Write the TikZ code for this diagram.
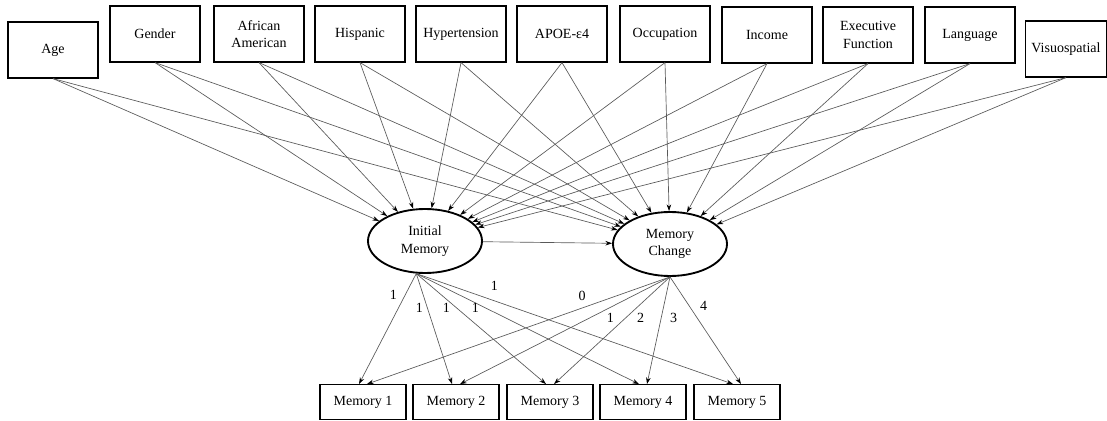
\documentclass[tikz,border=0pt]{standalone}
\usepackage{fontspec}
\setmainfont{Liberation Serif}
\usetikzlibrary{arrows.meta,shapes.geometric}
\tikzset{
  covar/.style={draw, line width=0.9pt, minimum width=67.5pt, minimum height=42pt, align=center, inner sep=1pt},
  latent/.style={draw, ellipse, line width=1.4pt, minimum width=85.5pt, minimum height=48pt, align=center, inner sep=0pt},
  indic/.style={draw, line width=0.9pt, minimum width=64.5pt, minimum height=26pt, inner sep=1pt},
  reg/.style={draw=black!65, line width=0.5pt, -{Stealth[length=5pt,width=3.4pt,color=black]}},
  load/.style={inner sep=0pt, text=black}
}
\begin{document}
\begin{tikzpicture}[x=0.75pt, y=-0.75pt, font=\fontsize{10.5}{13}\selectfont]
    \useasboundingbox (0,0) rectangle (1107,421);

    % Covariates
    \node[covar] (age)  at (53,50)   {Age};
    \node[covar] (gen)  at (155,34)  {Gender};
    \node[covar] (afa)  at (259,34)  {African\\American};
    \node[covar] (his)  at (360,34)  {Hispanic};
    \node[covar] (hyp)  at (461,34)  {Hypertension};
    \node[covar] (apoe) at (562,34)  {APOE-ε4};
    \node[covar] (occ)  at (665,34)  {Occupation};
    \node[covar] (inc)  at (767,35)  {Income};
    \node[covar] (exf)  at (868,35)  {Executive\\Function};
    \node[covar] (lang) at (970,35)  {Language};
    \node[covar, minimum width=60.75pt] (vis) at (1066,49) {Visuospatial};

    % Latent growth factors
    \node[latent] (im) at (425,241) {Initial\\Memory};
    \node[latent] (mc) at (670,244) {Memory\\Change};

    % Indicators
    \node[indic] (m1) at (363,402) {Memory 1};
    \node[indic] (m2) at (456,402) {Memory 2};
    \node[indic] (m3) at (550,402) {Memory 3};
    \node[indic] (m4) at (643,402) {Memory 4};
    \node[indic] (m5) at (737,402) {Memory 5};

    % Covariate paths
    \foreach \v in {age,gen,afa,his,hyp,apoe,occ,inc,exf,lang,vis}{
        \draw[reg] (\v.south) -- (im);
        \draw[reg] (\v.south) -- (mc);
    }
    \draw[reg] (im) -- (mc);

    % Initial memory loadings
    \draw[reg] (im.255) -- node[load, pos=.19, xshift=-9pt] {1} ([xshift=-3pt]m1.north);
    \draw[reg] (im.255) -- node[load, pos=.31, xshift=-6pt] {1} ([xshift=-3pt]m2.north);
    \draw[reg] (im.255) -- node[load, pos=.31, xshift=-7.5pt] {1} ([xshift=-3pt]m3.north);
    \draw[reg] (im.255) -- node[load, pos=.31, xshift=-7.5pt] {1} ([xshift=-3pt]m4.north);
    \draw[reg] (im.255) -- node[load, pos=.24, xshift=1.5pt, yshift=11pt] {1} ([xshift=-3pt]m5.north);

    % Memory change loadings
    \draw[reg] (mc.south) -- node[load, pos=.29, yshift=8.7pt] {0} ([xshift=3pt]m1.north);
    \draw[reg] (mc.south) -- node[load, pos=.385, xshift=16pt] {1} ([xshift=3pt]m2.north);
    \draw[reg] (mc.south) -- node[load, pos=.385, xshift=11.5pt] {2} ([xshift=3pt]m3.north);
    \draw[reg] (mc.south) -- node[load, pos=.385, xshift=9.4pt] {3} ([xshift=3pt]m4.north);
    \draw[reg] (mc.south) -- node[load, pos=.266, xshift=11pt] {4} ([xshift=3pt]m5.north);
\end{tikzpicture}
\end{document}
